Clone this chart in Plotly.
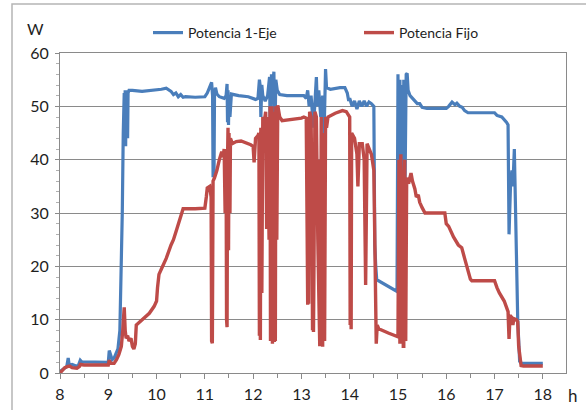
import plotly.graph_objects as go

# ---- data (hours, W) ----
t_eje = [8.00, 8.08, 8.14, 8.17, 8.19, 8.25, 8.33, 8.38, 8.42, 8.45, 8.6, 8.8, 9.0, 9.02, 9.05, 9.08,
         9.12, 9.17, 9.2, 9.24, 9.27, 9.29, 9.31, 9.33, 9.34, 9.35, 9.36, 9.37, 9.38, 9.39, 9.40, 9.41,
         9.43, 9.5, 9.7, 9.9, 10.0, 10.1, 10.2, 10.25, 10.3, 10.35, 10.4, 10.45, 10.5, 10.55, 10.6, 10.8,
         11.0, 11.05, 11.1, 11.14, 11.16, 11.17, 11.19, 11.2, 11.22, 11.25, 11.3, 11.4, 11.44, 11.46,
         11.47, 11.48, 11.49, 11.5, 11.52, 11.55, 11.7, 11.9, 12.05, 12.1, 12.13, 12.15, 12.16, 12.18,
         12.2, 12.25, 12.3, 12.34, 12.36, 12.38, 12.4, 12.43, 12.45, 12.47, 12.5, 12.55, 12.7, 12.9,
         13.05, 13.1, 13.13, 13.16, 13.2, 13.25, 13.28, 13.31, 13.33, 13.36, 13.4, 13.44, 13.47, 13.5,
         13.52, 13.6, 13.8, 13.9, 13.95, 13.98, 14.0, 14.05, 14.1, 14.15, 14.2, 14.25, 14.3, 14.35, 14.4,
         14.45, 14.5, 14.52, 14.54, 14.56, 14.98, 15.0, 15.02, 15.04, 15.06, 15.08, 15.1, 15.12, 15.14,
         15.17, 15.19, 15.21, 15.25, 15.3, 15.35, 15.4, 15.45, 15.5, 15.6, 15.8, 16.0, 16.05, 16.12,
         16.18, 16.22, 16.28, 16.33, 16.38, 16.45, 16.6, 16.8, 17.0, 17.05, 17.15, 17.25, 17.28, 17.3,
         17.33, 17.36, 17.38, 17.41, 17.43, 17.46, 17.48, 17.52, 17.56, 17.6, 18.0]
p_eje = [0.3, 0.8, 1.2, 2.8, 1.5, 1.6, 1.3, 1.4, 2.4, 2.1, 2.1, 2.0, 2.0, 4.2, 3.5, 2.5,
         2.8, 4.0, 4.5, 8, 20, 30, 45, 52.5, 44, 53, 42.5, 52.8, 46, 53, 44, 52.5,
         53, 53, 52.8, 53, 53, 53.2, 53.4, 53.0, 52.8, 52.2, 52.5, 51.8, 52.2, 51.7, 51.8, 51.7,
         51.8, 52.5, 53.5, 54.5, 52, 37, 37, 52, 53.5, 52.3, 51.8, 51.5, 52, 54.2,
         47, 53, 46.5, 52, 48, 52.3, 52.0, 51.8, 51.3, 51.5, 55, 53.5, 48, 54,
         52, 51, 52, 55.5, 40, 56, 53, 56.5, 44, 55, 53, 52.2, 52, 52,
         52, 51.5, 53, 50, 52, 46, 52, 55.5, 50, 53, 48, 52, 45, 57,
         53.5, 53.2, 53.5, 53.5, 52.5, 51, 51.5, 50, 51, 49.5, 51, 50, 51, 50, 50.8,
         50.5, 50, 24, 20, 17.5, 15.3, 56, 20, 55, 10, 54, 12, 55, 30,
         56, 56.2, 53, 52, 51.5, 51, 50.5, 50.5, 49.8, 49.6, 49.6, 49.6, 50, 50.8,
         50.3, 50.6, 50, 49.8, 49.2, 48.8, 48.8, 48.8, 48.8, 48.3, 48, 47, 46.5, 26,
         35, 38, 35, 42, 33, 24, 10, 2.2, 1.8, 1.8, 1.8]

t_fijo = [8.0, 8.05, 8.1, 8.15, 8.2, 8.25, 8.35, 8.4, 8.42, 8.5, 8.7, 9.0, 9.02, 9.05, 9.12, 9.17,
          9.22, 9.27, 9.3, 9.33, 9.35, 9.37, 9.4, 9.43, 9.47, 9.5, 9.53, 9.56, 9.58, 9.65, 9.75, 9.85,
          9.95, 10.0, 10.02, 10.05, 10.1, 10.2, 10.3, 10.35, 10.42, 10.5, 10.55, 10.8, 11.0, 11.03,
          11.05, 11.1, 11.13, 11.14, 11.15, 11.155, 11.16, 11.17, 11.2, 11.25, 11.3, 11.35, 11.38, 11.4,
          11.42, 11.44, 11.45, 11.46, 11.47, 11.48, 11.49, 11.5, 11.52, 11.53, 11.57, 11.65, 11.75, 11.85,
          11.95, 12.0, 12.02, 12.05, 12.1, 12.12, 12.13, 12.14, 12.15, 12.16, 12.18, 12.2, 12.23, 12.26,
          12.28, 12.3, 12.33, 12.35, 12.36, 12.37, 12.38, 12.39, 12.4, 12.41, 12.42, 12.43, 12.44, 12.45,
          12.46, 12.47, 12.49, 12.51, 12.55, 12.6, 12.8, 13.0, 13.05, 13.1, 13.12, 13.13, 13.14, 13.15,
          13.17, 13.2, 13.22, 13.23, 13.24, 13.25, 13.26, 13.28, 13.31, 13.34, 13.38, 13.39, 13.4, 13.41,
          13.42, 13.43, 13.44, 13.45, 13.46, 13.47, 13.48, 13.5, 13.52, 13.55, 13.7, 13.85, 13.93, 14.0,
          14.01, 14.02, 14.03, 14.04, 14.1, 14.15, 14.17, 14.2, 14.26, 14.3, 14.33, 14.36, 14.4, 14.45,
          14.5, 14.53, 14.55, 14.57, 14.6, 14.8, 15.0, 15.02, 15.03, 15.04, 15.05, 15.06, 15.07, 15.08,
          15.09, 15.1, 15.11, 15.12, 15.13, 15.14, 15.15, 15.16, 15.18, 15.22, 15.27, 15.3, 15.35, 15.38,
          15.42, 15.45, 15.5, 15.56, 15.97, 16.0, 16.05, 16.1, 16.15, 16.25, 16.32, 16.38, 16.45, 16.5,
          16.53, 17.0, 17.05, 17.1, 17.2, 17.25, 17.28, 17.3, 17.32, 17.35, 17.38, 17.4, 17.45, 17.48,
          17.5, 17.55, 17.6, 18.0]
p_fijo = [0, 0.6, 1.0, 1.2, 1.3, 1.0, 0.9, 1.2, 1.6, 1.5, 1.5, 1.5, 2.4, 1.8, 1.8, 2.5,
          3.5, 5, 8, 12.3, 8, 6.5, 7, 6, 6.5, 5, 4.5, 5.5, 9, 9.6, 10.5, 11.2,
          12.5, 13.5, 16, 18.5, 19.5, 21.5, 24, 25, 27, 29.5, 30.8, 30.8, 30.9, 33,
          34.7, 35, 33, 6, 30, 5.6, 34, 36, 36.6, 38, 40, 41.5, 40.5, 42,
          30, 42, 10, 8.6, 40, 46, 23, 45, 30, 44, 43, 43.4, 43.5, 43.2,
          42.8, 42.5, 39.5, 44, 44.5, 45, 7, 40, 6.2, 46, 15, 48, 47, 49,
          27, 48, 25, 50, 6, 48, 7, 50, 5.5, 45, 6, 49, 5.8, 47,
          6, 50, 25, 50.2, 48, 47.3, 47.5, 47.8, 48, 47.8, 25, 12.8, 35, 13,
          49, 48, 30, 8, 40, 7.7, 20, 49, 48, 25, 5, 40, 5.5, 48,
          10, 45, 4.9, 40, 6, 45, 6, 48, 46, 48, 48.7, 49.2, 49, 48,
          9, 40, 8.2, 45, 44, 41, 35, 43, 43, 40, 16.5, 43, 42, 41,
          38, 20, 5.5, 9, 8.3, 7.5, 6.8, 40, 6, 5.5, 38, 41, 6, 7,
          36, 38, 5, 5, 37, 40, 7, 6, 36.6, 35.5, 37.5, 36, 34.5, 33,
          33.4, 32, 31, 30, 30, 28, 27.5, 26.5, 25.5, 24, 23.5, 21.5, 19.5, 17.6,
          17.3, 17.3, 16, 15, 13.5, 12.2, 11.5, 6.4, 10.8, 10.5, 9, 10.2, 10, 9.6,
          5, 1.4, 1.3, 1.3]

x_ticks = [8, 9, 10, 11, 12, 13, 14, 15, 16, 17, 18]
y_ticks = [0, 10, 20, 30, 40, 50, 60]
names = ["Potencia 1-Eje", "Potencia Fijo"]
colors = ["#4a7ebb", "#be4b48"]

FONT = "Lato"
TXT = "#1e1e1e"
GRID = "#8a8a8a"

fig = go.Figure()
fig.add_trace(go.Scatter(x=t_eje, y=p_eje, mode="lines", name=names[0], legend="legend",
                         line=dict(color=colors[0], width=3.2)))
fig.add_trace(go.Scatter(x=t_fijo, y=p_fijo, mode="lines", name=names[1], legend="legend2",
                         line=dict(color=colors[1], width=3.4)))

leg_common = dict(orientation="h", xanchor="left", yanchor="middle", y=(373 - 33) / 320,
                  font=dict(size=14, family=FONT, color=TXT),
                  bgcolor="rgba(0,0,0,0)", borderwidth=0)

fig.update_layout(
    width=586, height=410,
    margin=dict(l=60, r=20, t=53, b=37, autoexpand=False),
    paper_bgcolor="white", plot_bgcolor="white",
    font=dict(family=FONT, size=16, color=TXT),
    showlegend=True,
    legend=dict(x=(148 - 60) / 506, **leg_common),
    legend2=dict(x=(359 - 60) / 506, **leg_common),
    xaxis=dict(range=[8, 18.48], tickvals=x_ticks, ticktext=[str(v) for v in x_ticks],
               showgrid=False, zeroline=False, showline=True, linecolor=GRID, linewidth=1,
               mirror=True, ticks="outside", ticklen=5, tickcolor=GRID, ticklabelstandoff=2,
               minor=dict(dtick=0.5, tick0=8, ticks="outside", ticklen=4, tickcolor=GRID,
                          showgrid=False),
               tickfont=dict(size=16, family=FONT, color=TXT)),
    yaxis=dict(range=[0, 60], tickvals=y_ticks, showgrid=True, gridcolor=GRID, gridwidth=1,
               zeroline=False, showline=True, linecolor=GRID, linewidth=1, mirror=True,
               ticks="outside", ticklen=4, tickcolor=GRID, ticklabelstandoff=3,
               minor=dict(dtick=2, tick0=0, ticks="outside", ticklen=3, tickcolor="#b0b0b0",
                          showgrid=False),
               tickfont=dict(size=16, family=FONT, color=TXT)),
    shapes=[dict(type="rect", xref="paper", yref="paper",
                 x0=(12 - 60) / 506, x1=1.2, y0=-0.2, y1=(373 - 4) / 320,
                 line=dict(color="#b5b5b5", width=1.5), fillcolor="rgba(0,0,0,0)", layer="below")],
    annotations=[
        dict(text="W", xref="paper", yref="paper", x=(35 - 60) / 506, y=(373 - 28) / 320,
             xanchor="center", yanchor="middle", showarrow=False,
             font=dict(size=16, family=FONT, color=TXT)),
        dict(text="h", xref="paper", yref="paper", x=(573 - 60) / 506, y=(373 - 395) / 320,
             xanchor="center", yanchor="middle", showarrow=False,
             font=dict(size=17, family=FONT, color=TXT)),
    ],
)

fig.write_html("out.html")
